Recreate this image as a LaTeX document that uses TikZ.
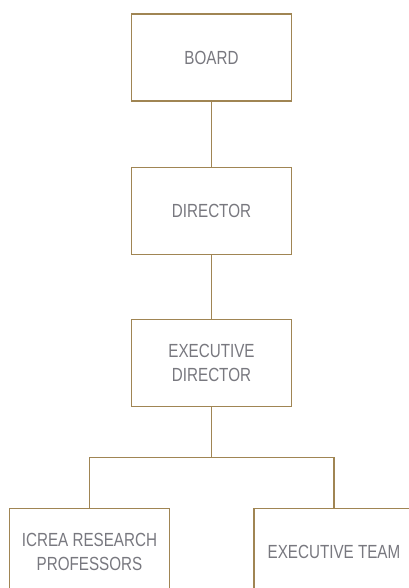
\documentclass[tikz,border=0pt]{standalone}
\usepackage{fontspec}
\setmainfont{Liberation Sans}[FakeStretch=0.8]
\usetikzlibrary{positioning}
\definecolor{boxline}{HTML}{A08553}
\definecolor{boxtext}{HTML}{78787F}
\tikzset{
  unit/.style={draw=boxline, line width=1.1pt, fill=white, text=boxtext,
    minimum width=160pt, minimum height=87pt, inner sep=0pt, align=center,
    font=\fontsize{19}{24}\selectfont},
  link/.style={draw=boxline, line width=1.1pt}
}

\begin{document}
\begin{tikzpicture}
                \useasboundingbox (0,0) rectangle (408pt,-588pt);

                \node[unit] (board) at (211.5pt,-57.5pt) {BOARD};
                \node[unit, below=65pt of board] (director) {DIRECTOR};
                \node[unit, below=64pt of director] (execdir) {EXECUTIVE\\DIRECTOR};
                \node[unit, below=101pt of execdir, xshift=-122pt] (icrea) {ICREA RESEARCH\\PROFESSORS};
                \node[unit, below=101pt of execdir, xshift=122.5pt] (execteam) {EXECUTIVE TEAM};
                \coordinate[below=51pt of execdir] (bus);

                % board to director
                \draw[link] (board) -- (director);
                % director to executive director
                \draw[link] (director) -- (execdir);
                % executive director to bus
                \draw[link] (execdir) -- (bus);
                % bus to the two lower boxes
                \draw[link] (icrea.north) |- (bus) -| (execteam.north);
            \end{tikzpicture}
\end{document}
